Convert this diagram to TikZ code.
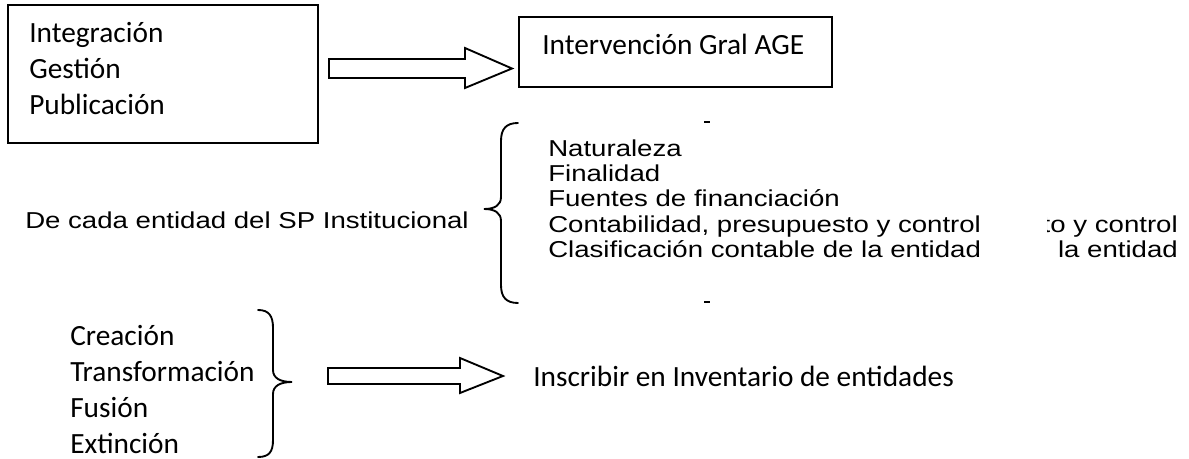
\documentclass[tikz,border=0pt]{standalone}
\usepackage{fontspec}
\newfontfamily\calfont{Carlito}
\newfontfamily\arifont[FakeStretch=1.2]{Liberation Sans}
\begin{document}
\begin{tikzpicture}[x=0.75pt,y=-0.75pt,
  cal/.style={font=\calfont\fontsize{22}{26}\selectfont, inner sep=0pt, anchor=base west},
  ari/.style={font=\arifont\fontsize{17.25}{20}\selectfont, inner sep=0pt, anchor=base west},
  arie/.style={font=\arifont\fontsize{17.25}{20}\selectfont, inner sep=0pt, anchor=base east},
  boxline/.style={draw, line width=1.6pt},
  blockarrow/.style={draw, line width=1.4pt, line join=miter},
  bracestyle/.style={draw, line width=1.4pt, line cap=round},
  tick/.style={draw, line width=1pt}]
\useasboundingbox (0,0) rectangle (1189,459);
% top-left box
\draw[boxline] (8,5) rectangle (318,143);
\node[cal] (integ) at (29,43) {Integración};
\node[cal] (gest) at (29,79) {Gestión};
\node[cal] (publ) at (29,115) {Publicación};
% block arrow 1
\draw[blockarrow] (329,59) -- (465,59) -- (465,48) -- (512,68.5) -- (465,88) -- (465,78) -- (329,78) -- cycle;
% box 2
\draw[boxline] (519,17) rectangle (832,87);
\node[cal] (interv) at (542,55) {Intervención Gral AGE};
% brace 1
\draw[bracestyle] (518,123) .. controls (506,123) and (501,129) .. (501,141) -- (501,197)
  .. controls (501,205) and (495,209) .. (484,209)
  .. controls (495,209) and (501,213) .. (501,221) -- (501,285)
  .. controls (501,297) and (506,303) .. (518,303);
\draw[tick] (704,122) -- (710,122);
\draw[tick] (704,302) -- (710,302);
\node[ari] (decada) at (25,229) {De cada entidad del SP Institucional};
\node[ari] (nat) at (548,157) {Naturaleza};
\node[ari] (fin) at (548,182) {Finalidad};
\node[ari] (fue) at (548,207) {Fuentes de financiación};
\node[ari] (con) at (548,233) {Contabilidad, presupuesto y control};
\node[ari] (cla) at (548,258) {Clasificación contable de la entidad};
\begin{scope}
  \clip (1047,210) rectangle (1189,245);
  \node[arie] (con2) at (1178,233) {to y control};
\end{scope}
\node[arie] (cla2) at (1178,258) {la entidad};
% bottom list
\node[cal] (crea) at (70,346) {Creación};
\node[cal] (trans) at (70,382) {Transformación};
\node[cal] (fus) at (70,418) {Fusión};
\node[cal] (ext) at (70,454) {Extinción};
% brace 2
\draw[bracestyle] (258,310) .. controls (269,310) and (273,316) .. (273,328) -- (273,370)
  .. controls (273,378) and (280,382) .. (292,382)
  .. controls (280,382) and (273,386) .. (273,394) -- (273,440)
  .. controls (273,452) and (269,457) .. (258,457);
% block arrow 2
\draw[blockarrow] (328,368) -- (460,368) -- (460,358) -- (503,376) -- (460,393) -- (460,384) -- (328,384) -- cycle;
\node[cal] (inscr) at (533,387) {Inscribir en Inventario de entidades};
\end{tikzpicture}
\end{document}
